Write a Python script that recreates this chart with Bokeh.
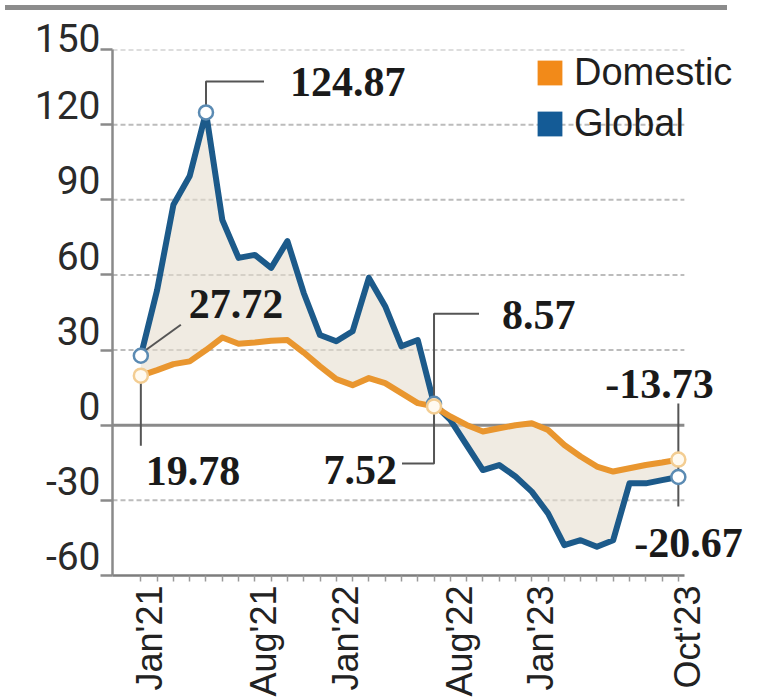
import numpy as np
from bokeh.plotting import figure
from bokeh.models import (Range1d, FixedTicker, Label, Legend, LegendItem,
                          ColumnDataSource, Div)
from bokeh.layouts import column
from bokeh.embed import file_html
from bokeh.resources import INLINE

# ---------------- data ----------------
months = ["Jan'21", "Feb'21", "Mar'21", "Apr'21", "May'21", "Jun'21", "Jul'21", "Aug'21",
          "Sep'21", "Oct'21", "Nov'21", "Dec'21", "Jan'22", "Feb'22", "Mar'22", "Apr'22",
          "May'22", "Jun'22", "Jul'22", "Aug'22", "Sep'22", "Oct'22", "Nov'22", "Dec'22",
          "Jan'23", "Feb'23", "Mar'23", "Apr'23", "May'23", "Jun'23", "Jul'23", "Aug'23",
          "Sep'23", "Oct'23"]
global_vals = [27.72, 54, 88, 99.5, 124.87, 82, 66.8, 68, 62.8, 73.5, 52.8, 36, 33.5, 37.5,
               58.8, 47.5, 31.5, 34, 8.57, 2.1, -7.9, -17.9, -15.9, -20.5, -26.5, -35.2,
               -47.9, -45.9, -48.5, -45.9, -23.2, -23.2, -21.9, -20.67]
domestic_vals = [19.78, 22, 24.4, 25.5, 30, 35, 32.5, 33, 33.7, 34, 29, 23.5, 18.4, 16,
                 18.8, 16.8, 12.8, 8.8, 7.52, 3.5, 0.1, -2.5, -1.2, 0, 0.8, -1.9, -7.9,
                 -12.5, -16.5, -18.5, -17.2, -15.9, -14.9, -13.73]
x_label_months = ["Jan'21", "Aug'21", "Jan'22", "Aug'22", "Jan'23", "Oct'23"]
y_ticks = [-60, -30, 0, 30, 60, 90, 120, 150]
global_marked = [0, 4, 18, 33]
domestic_marked = [0, 18, 33]

GLOBAL_C = "#1c5a8a"
DOM_C = "#e9962f"

# ---------------- figure ----------------
FRAME_W, FRAME_H = 638, 526
X0, X1 = -1.74, 37.43       # visible x range (frame extends right for labels/legend)
XR = 33.37                  # where axis & grid lines end
Y0, Y1 = -60, 150
ux = (X1 - X0) / FRAME_W
uy = (Y1 - Y0) / FRAME_H
LABEL_SHIFT = 9 * ux        # rotated month labels sit slightly right of their tick

p = figure(frame_width=FRAME_W, frame_height=FRAME_H,
           x_range=Range1d(X0, X1), y_range=Range1d(Y0, Y1),
           output_backend="svg", toolbar_location=None,
           min_border_left=112, min_border_right=5,
           min_border_top=34, min_border_bottom=120)
p.outline_line_color = None
p.background_fill_color = "white"
p.border_fill_color = "white"

xs = list(range(len(months)))
src = ColumnDataSource(dict(x=xs, g=global_vals, d=domestic_vals))

# grid (drawn as segments so that they stop where the x axis stops)
p.xgrid.visible = False
p.ygrid.visible = False
grid_ticks = [t for t in y_ticks if t not in (0, -60)]
p.segment(x0=[X0] * len(grid_ticks), x1=[XR] * len(grid_ticks), y0=grid_ticks, y1=grid_ticks,
          line_color="#bcbcbc", line_width=2, line_dash="5 3")
p.segment(x0=[X0], x1=[XR], y0=[0], y1=[0], line_color="#8a8a8a", line_width=3)

# y axis
ya = p.yaxis[0]
ya.ticker = FixedTicker(ticks=y_ticks)
ya.major_label_overrides = {t: f"{t}\n " for t in y_ticks}
ya.major_label_text_font = "Roboto"
ya.major_label_text_font_size = "39px"
ya.major_label_text_line_height = 0.8
ya.major_label_text_color = "#2a2a2a"
ya.major_label_standoff = 0
ya.axis_line_color = "#8a8a8a"
ya.axis_line_width = 2.5
ya.major_tick_line_color = "#8a8a8a"
ya.major_tick_line_width = 2.5
ya.major_tick_out = 12
ya.major_tick_in = 0
ya.minor_tick_line_color = None

# x axis: month tick marks as minor ticks, labels placed just right of them
xa = p.xaxis[0]
xa.bounds = (X0, XR)
label_pos = [months.index(m) + LABEL_SHIFT for m in x_label_months]
xa.ticker = FixedTicker(ticks=label_pos, minor_ticks=xs)
xa.major_label_overrides = {pos: m for pos, m in zip(label_pos, x_label_months)}
xa.major_label_orientation = np.pi / 2
xa.major_label_text_font = "Liberation Sans"
xa.major_label_text_font_size = "36px"
xa.major_label_text_color = "#222222"
xa.major_label_standoff = 4
xa.axis_line_color = "#7d7d7d"
xa.axis_line_width = 2.5
xa.major_tick_line_color = None
xa.major_tick_out = 0
xa.major_tick_in = 0
xa.minor_tick_line_color = "#9a9a9a"
xa.minor_tick_line_width = 1.5
xa.minor_tick_out = 6
xa.minor_tick_in = 0

# fill between
p.varea(x="x", y1="d", y2="g", source=src, fill_color="#e6ddcf", fill_alpha=0.6)

# lines
p.line("x", "g", source=src, line_color=GLOBAL_C, line_width=6, line_join="round")
p.line("x", "d", source=src, line_color=DOM_C, line_width=6, line_join="round")

# leaders (pixel offsets from anchor converted to data units; dy positive = down)
LEAD_C = "#555555"
def path(i, vals, pts):
    return ([i + dx * ux for dx, dy in pts], [vals[i] - dy * uy for dx, dy in pts])

leaders = [
    path(4, global_vals, [(0, -7), (0, -31), (58, -31)]),
    path(0, global_vals, [(4, -5), (40, -31)]),
    path(0, domestic_vals, [(0, 7), (0, 70)]),
    path(18, domestic_vals, [(0, 7), (0, 57), (-32, 57)]),
    path(18, global_vals, [(0, -7), (0, -90), (45, -90)]),
    path(33, domestic_vals, [(0, -56), (0, 47)]),
]
p.multi_line([l[0] for l in leaders], [l[1] for l in leaders], line_color=LEAD_C, line_width=2)

# markers
p.scatter([i for i in global_marked], [global_vals[i] for i in global_marked], size=14,
          fill_color="white", line_color="#5b8bb3", line_width=2.5)
p.scatter([i for i in domestic_marked], [domestic_vals[i] for i in domestic_marked], size=14,
          fill_color="#fffaf0", line_color="#f3cd92", line_width=2.5)

# value labels
def vlabel(i, vals, dx, dy, align="left"):
    p.add_layout(Label(x=i, y=vals[i], x_offset=dx, y_offset=dy, text=f"{vals[i]:.2f}",
                       text_font="Liberation Serif", text_font_style="bold",
                       text_font_size="42px", text_color="#1a1a1a",
                       text_baseline="alphabetic", text_align=align))

vlabel(4, global_vals, 84, 30)
vlabel(0, global_vals, 48, 52)
vlabel(0, domestic_vals, 5, -95)
vlabel(18, domestic_vals, -37, -64, "right")
vlabel(18, global_vals, 68, 89)
vlabel(33, domestic_vals, -73, 76)
vlabel(33, global_vals, -44, -66)

# legend with square swatches (hidden bar renderers carry the swatch style)
rd = p.vbar(x="x", top="d", width=0.5, source=src, fill_color="#f28a19", line_color=None, visible=False)
rg = p.vbar(x="x", top="g", width=0.5, source=src, fill_color="#145b96", line_color=None, visible=False)
legend = Legend(items=[LegendItem(label="Domestic", renderers=[rd]),
                       LegendItem(label="Global", renderers=[rg])],
                location=(422, 430), orientation="vertical",
                glyph_width=31, glyph_height=31, label_height=31, label_standoff=9,
                spacing=8, padding=0, margin=0,
                label_text_font="Liberation Sans", label_text_font_size="38px",
                label_text_color="#1f1f1f",
                border_line_color=None, background_fill_alpha=0)
p.add_layout(legend)

bar = Div(text="", width=722, height=5, styles={"background-color": "#8c8c8c"})
layout = column(bar, p)

open("out.html", "w").write(file_html(layout, INLINE))
